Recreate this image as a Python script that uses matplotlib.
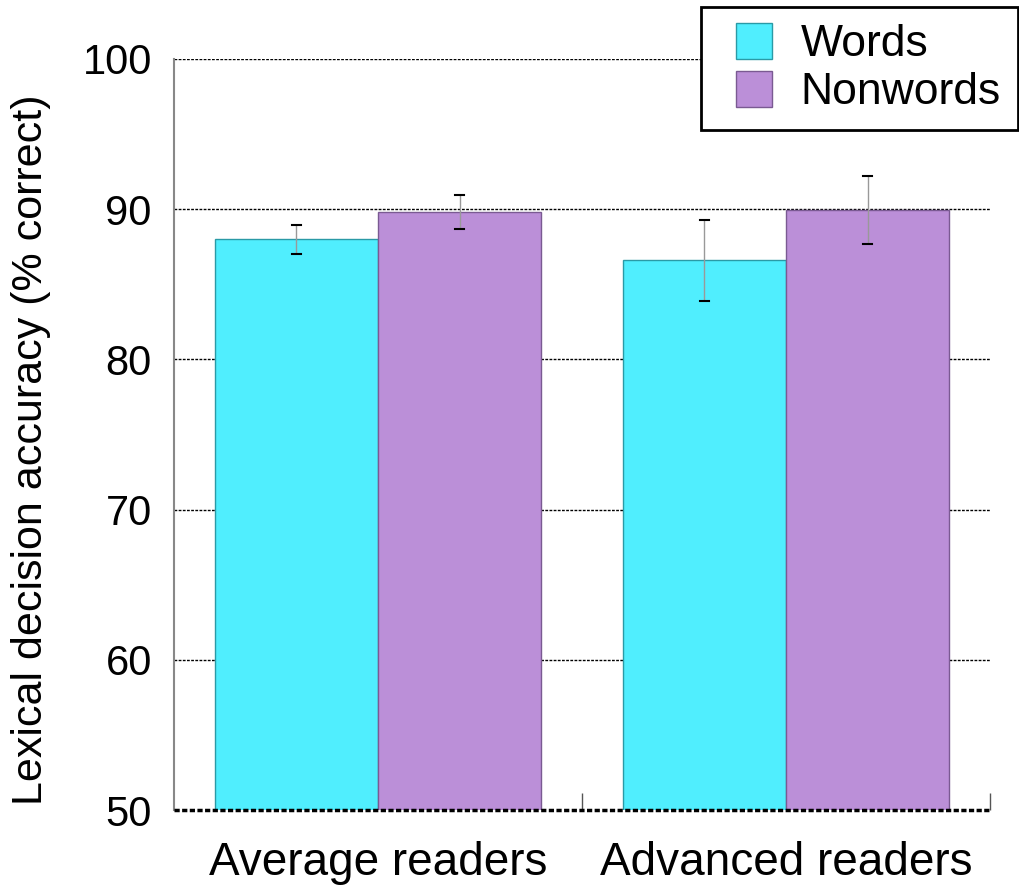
import numpy as np
import matplotlib.pyplot as plt
from matplotlib.patches import Rectangle
from matplotlib.legend_handler import HandlerPatch

plt.rcParams['font.family'] = ['Liberation Sans', 'DejaVu Sans']

groups = ["Average readers", "Advanced readers"]
words = [88.0, 86.6]
words_err = [0.95, 2.7]
nonwords = [89.8, 89.95]
nonwords_err = [1.15, 2.25]

x = np.arange(1, len(groups) + 1)
width = 0.4

fig = plt.figure(figsize=(10.19, 8.86), dpi=100)
ax = fig.add_axes([174 / 1019, 1 - 810 / 886, (990 - 174) / 1019, (810 - 59) / 886])

b1 = ax.bar(x - width / 2, words, width, color='#50eefe', edgecolor='#2a9aa6', linewidth=1, label='Words', zorder=2)
b2 = ax.bar(x + width / 2, nonwords, width, color='#bb8fd8', edgecolor='#7a5a92', linewidth=1, label='Nonwords', zorder=2)
cap = 0.012
for xs, vals, errs in [(x - width / 2, words, words_err), (x + width / 2, nonwords, nonwords_err)]:
    ax.errorbar(xs, vals, yerr=errs, fmt='none', ecolor='#999999', elinewidth=1, capsize=0, zorder=3)
    for xi, v, e in zip(xs, vals, errs):
        ax.plot([xi - cap, xi + cap], [v + e, v + e], color='black', lw=1.5, zorder=4)
        ax.plot([xi - cap, xi + cap], [v - e, v - e], color='black', lw=1.5, zorder=4)

ax.set_xlim(0.5, 2.5)
ax.set_ylim(50, 100)
ax.set_yticks([50, 60, 70, 80, 90, 100])
ax.set_xticks(x)
ax.set_xticklabels(groups)
ax.set_xticks([1.5, 2.5], minor=True)
ax.tick_params(axis='x', which='major', length=0, labelsize=33, pad=22)
ax.tick_params(axis='x', which='minor', length=12, direction='in', width=1, color='#555555')
ax.tick_params(axis='y', length=0, labelsize=30, pad=16)

for yv in [60, 70, 80, 90, 100]:
    ax.axhline(yv, color='black', linestyle=(0, (2, 1)), linewidth=1, zorder=1)
ax.axhline(50, color='black', linestyle=(0, (1.5, 0.7)), linewidth=2.5, zorder=5, clip_on=False)

for s in ['top', 'right', 'bottom']:
    ax.spines[s].set_visible(False)
ax.spines['left'].set_color('#888888')
ax.spines['left'].set_linewidth(1.5)

ax.set_ylabel('Lexical decision accuracy (% correct)', fontsize=31, va='center')
ax.yaxis.set_label_coords((31 - 174) / 816, (810 - 450) / 751)


def square_patch(legend, orig_handle, xdescent, ydescent, width, height, fontsize):
    s = 0.81 * fontsize
    return Rectangle((-xdescent + width - s, -ydescent + (height - s) / 2), s, s)


leg = ax.legend([b1.patches[0], b2.patches[0]], ['Words', 'Nonwords'],
                loc='upper right', bbox_to_anchor=(1018 / 1019, 1 - 7 / 886), bbox_transform=fig.transFigure,
                fontsize=32, frameon=True, fancybox=False, edgecolor='black', framealpha=1,
                handlelength=1.22, handleheight=0.8, handletextpad=0.65, borderpad=0.38,
                labelspacing=0.14, borderaxespad=0,
                handler_map={Rectangle: HandlerPatch(patch_func=square_patch)})
leg.get_frame().set_linewidth(2)

fig.savefig('out.png', dpi=100)
